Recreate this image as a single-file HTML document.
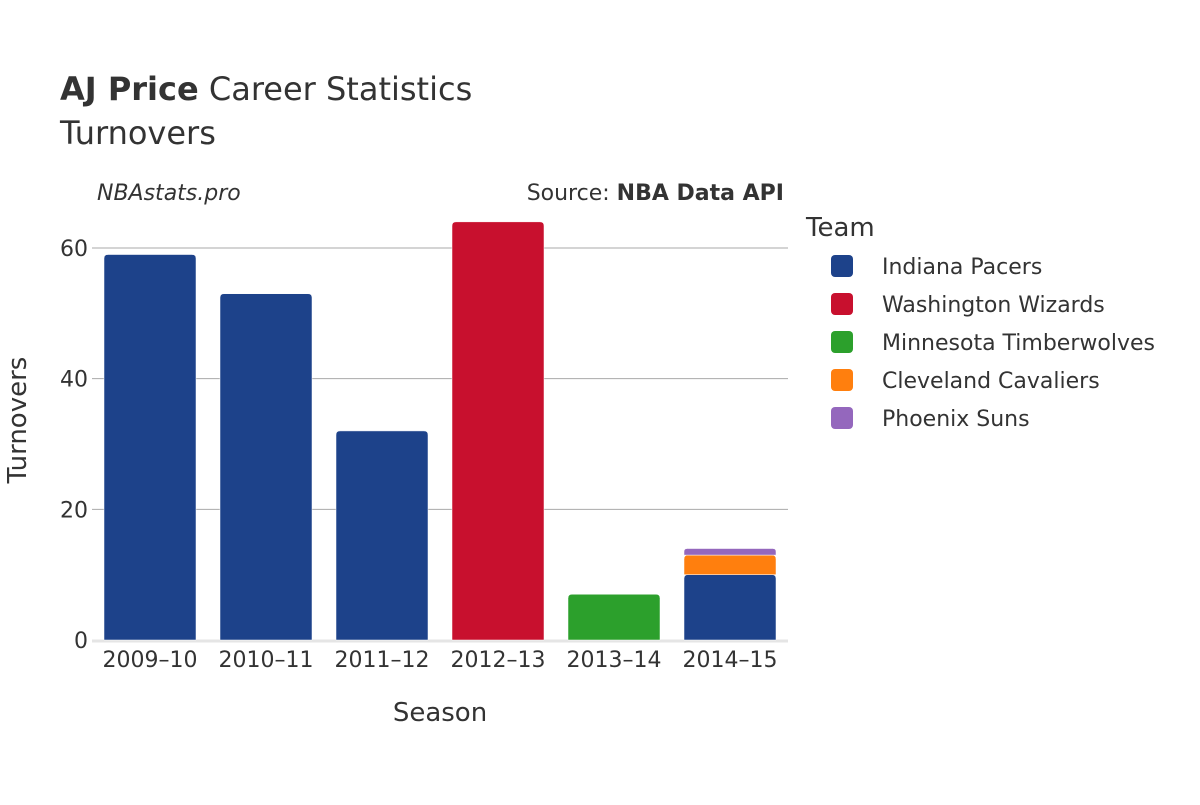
<!DOCTYPE html>
<html><head><meta charset="utf-8"><style>
body{margin:0;background:#fff;}
svg text{font-family:"DejaVu Sans","Liberation Sans",sans-serif;fill:#333;}
</style></head><body>
<svg id="chart" width="1200" height="800" xmlns="http://www.w3.org/2000/svg">
<text x="60" y="100" font-size="32"><tspan font-weight="bold">AJ Price</tspan> Career Statistics</text>
<text x="60" y="144" font-size="32">Turnovers</text>
<text x="97" y="200" font-size="22" font-style="italic">NBAstats.pro</text>
<text x="784" y="200" font-size="22" text-anchor="end">Source: <tspan font-weight="bold">NBA Data API</tspan></text>
<g id="grid"></g>
<g id="bars"></g>
<g id="xticks"></g>
<text x="440" y="721" font-size="26" text-anchor="middle">Season</text>
<text transform="translate(26,420) rotate(-90)" font-size="26" text-anchor="middle">Turnovers</text>
<text x="806" y="236" font-size="26">Team</text>
<g id="legend"></g>
</svg>
<script>
const seasons=["2009–10","2010–11","2011–12","2012–13","2013–14","2014–15"];
const teams=["Indiana Pacers","Washington Wizards","Minnesota Timberwolves","Cleveland Cavaliers","Phoenix Suns"];
const colors=["#1d428a","#c8102e","#2ca02c","#ff7f0e","#9467bd"];
const pacers=[59,53,32,0,0,10];
const wizards=[0,0,0,64,0,0];
const wolves=[0,0,0,0,7,0];
const cavs=[0,0,0,0,0,3];
const suns=[0,0,0,0,0,1];
const yTicks=[0,20,40,60];
const series=[pacers,wizards,wolves,cavs,suns];
const NS="http://www.w3.org/2000/svg";
const x0=92,band=116,barW=92;
const y=v=>640-v*392/60;
const xc=i=>x0+band*i+band/2;
function mk(tag,attrs,parent){const e=document.createElementNS(NS,tag);for(const k in attrs)e.setAttribute(k,attrs[k]);parent.appendChild(e);return e;}
const grid=document.getElementById('grid');
yTicks.forEach(t=>{
 if(t>0){const l=mk('line',{x1:92,x2:788,y1:y(t),y2:y(t),stroke:'#aaa','stroke-width':1},grid);
 
 }
 const tx=mk('text',{x:88,y:y(t)+8,'font-size':22,'text-anchor':'end'},grid);tx.textContent=t;
 
 
});
const base=mk('line',{x1:92,x2:788,y1:641,y2:641,stroke:'#e5e5e5','stroke-width':3},grid);


const bars=document.getElementById('bars');
function barPath(x,yt,yb,w,r){r=Math.min(r,(yb-yt)/2);return `M${x},${yb}V${yt+r}Q${x},${yt} ${x+r},${yt}H${x+w-r}Q${x+w},${yt} ${x+w},${yt+r}V${yb}Z`;}
seasons.forEach((s,i)=>{
 let acc=0;
 series.forEach((arr,k)=>{
  const v=arr[i];if(!v)return;
  const yb=y(acc),yt=y(acc+v);acc+=v;
  const p=mk('path',{d:barPath(xc(i)-barW/2,yt,yb,barW,4),fill:colors[k],stroke:'#fff','stroke-width':0.5},bars);
  
  
 });
 const tx=mk('text',{x:xc(i),y:667,'font-size':22,'text-anchor':'middle'},document.getElementById('xticks'));tx.textContent=s;
 
 
});
const lg=document.getElementById('legend');
teams.forEach((t,k)=>{
 const g=mk('g',{},lg);
 
 
 const yy=266+k*38;
 mk('rect',{x:831,y:yy-11,width:22,height:22,rx:4,fill:colors[k]},g);
 const tx=mk('text',{x:882,y:yy+8,'font-size':22},g);tx.textContent=t;
});
</script>
</body></html>
